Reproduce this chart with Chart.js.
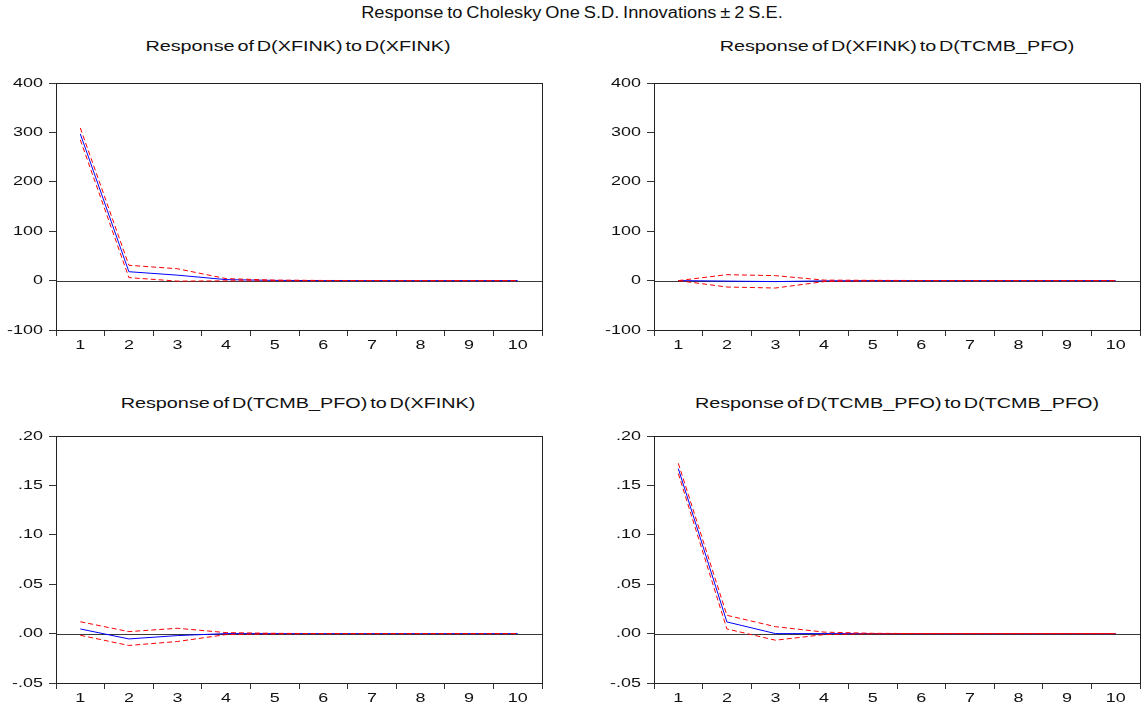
<!DOCTYPE html>
<html>
<head>
<meta charset="utf-8">
<script src="https://cdn.jsdelivr.net/npm/chart.js@4/dist/chart.umd.min.js"></script>
<style>
  html, body { margin: 0; padding: 0; background: #fff; }
  body { width: 1145px; height: 711px; position: relative; overflow: hidden; font-family: "Liberation Sans", Arial, sans-serif; color: #111; }
  .titulo { position: absolute; white-space: nowrap; transform-origin: center center; }
  .principal { left: 572px; top: 4px; font-size: 16px; transform: translateX(-50%) scaleX(1.14); word-spacing: -1px; }
  .sub { font-size: 15px; transform: translateX(-50%) scaleX(1.32); word-spacing: -2px; }
  canvas { position: absolute; }
</style>
</head>
<body>
<div class="titulo principal">Response to Cholesky One S.D. Innovations ± 2 S.E.</div>
<div class="titulo sub" style="left:298px;top:37px">Response of D(XFINK) to D(XFINK)</div>
<div class="titulo sub" style="left:897px;top:37px">Response of D(XFINK) to D(TCMB_PFO)</div>
<div class="titulo sub" style="left:298px;top:394px">Response of D(TCMB_PFO) to D(XFINK)</div>
<div class="titulo sub" style="left:897px;top:394px">Response of D(TCMB_PFO) to D(TCMB_PFO)</div>

<canvas id="g1" width="572" height="300" style="left:0;top:60px"></canvas>
<canvas id="g2" width="547" height="300" style="left:598px;top:60px"></canvas>
<canvas id="g3" width="572" height="298" style="left:0;top:413px"></canvas>
<canvas id="g4" width="547" height="298" style="left:598px;top:413px"></canvas>

<script>
// periodos del impulso-respuesta
const periodos = ['1', '2', '3', '4', '5', '6', '7', '8', '9', '10'];

// D(XFINK) -> D(XFINK)
const resp11 = [297, 18, 11, 2, 0.4, 0.1, 0, 0, 0, 0];
const sup11 = [309, 31, 24, 4, 1, 0.3, 0.1, 0, 0, 0];
const inf11 = [285, 6, -1, -0.5, -0.3, -0.1, 0, 0, 0, 0];

// D(XFINK) -> D(TCMB_PFO)
const resp12 = [0, -1, -2, -0.5, 0, 0, 0, 0, 0, 0];
const sup12 = [0, 12, 10, 1, 0.5, 0.2, 0, 0, 0, 0];
const inf12 = [0, -13, -15, -2, -0.5, -0.2, 0, 0, 0, 0];

// D(TCMB_PFO) -> D(XFINK)
const resp21 = [0.0047, -0.0054, -0.002, 0, 0, 0, 0, 0, 0, 0];
const sup21 = [0.012, 0.002, 0.0054, 0.001, 0.0003, 0, 0, 0, 0, 0];
const inf21 = [-0.0017, -0.012, -0.008, -0.001, -0.0003, 0, 0, 0, 0, 0];

// D(TCMB_PFO) -> D(TCMB_PFO)
const resp22 = [0.167, 0.0118, 0, 0, 0, 0, 0, 0, 0, 0];
const sup22 = [0.1724, 0.0185, 0.007, 0.0015, 0.0003, 0, 0, 0, 0, 0];
const inf22 = [0.162, 0.0047, -0.0067, -0.001, -0.0002, 0, 0, 0, 0, 0];

// ejes
const ticksXfink = [-100, 0, 100, 200, 300, 400];
const ticksTcmb = [-0.05, 0, 0.05, 0.10, 0.15, 0.20];

const ESTIRAR = 1.38; // el texto del original sale ensanchado

const textoAncho = {
  id: 'textoAncho',
  beforeInit(chart) {
    const ctx = chart.ctx;
    const fill = ctx.fillText.bind(ctx);
    ctx.fillText = (texto, x, y) => {
      ctx.save();
      ctx.translate(x, y);
      ctx.scale(ESTIRAR, 1);
      fill(texto, 0, 0);
      ctx.restore();
    };
  },
};

const marco = {
  id: 'marco',
  beforeDatasetsDraw(chart) {
    const { ctx, chartArea: a, scales } = chart;
    const y0 = Math.round(scales.y.getPixelForValue(0)) + 0.5;
    ctx.save();
    ctx.strokeStyle = '#3a3a3a';
    ctx.lineWidth = 1;
    ctx.beginPath();
    ctx.moveTo(a.left, y0);
    ctx.lineTo(a.right, y0);
    ctx.stroke();
    ctx.restore();
  },
  afterDatasetsDraw(chart) {
    const { ctx, chartArea: a } = chart;
    ctx.save();
    ctx.strokeStyle = '#222';
    ctx.lineWidth = 1;
    ctx.strokeRect(Math.round(a.left) + 0.5, Math.round(a.top) + 0.5, Math.round(a.right - a.left), Math.round(a.bottom - a.top));
    ctx.restore();
  },
};

function etiquetaDecimal(v) {
  if (Math.abs(v) < 1e-9) return '.00';
  return v.toFixed(2).replace(/^(-?)0\./, '$1.');
}

function dibujar(id, resp, sup, inf, ticks, formato, relleno, altoX) {
  const serieRoja = (data) => ({
    data, borderColor: '#ff0000', borderWidth: 1, borderDash: [5, 3], pointRadius: 0, tension: 0, fill: false,
  });
  return new Chart(document.getElementById(id), {
    type: 'line',
    data: {
      labels: periodos,
      datasets: [
        serieRoja(sup),
        serieRoja(inf),
        { data: resp, borderColor: '#0000ff', borderWidth: 1, pointRadius: 0, tension: 0, fill: false },
      ],
    },
    options: {
      responsive: false,
      animation: false,
      layout: { padding: relleno },
      plugins: { legend: { display: false }, tooltip: { enabled: false } },
      scales: {
        x: {
          offset: true,
          grid: { offset: true, drawOnChartArea: false, drawTicks: true, tickLength: 6, tickColor: '#333' },
          border: { display: false },
          ticks: { color: '#111', font: { family: 'Liberation Sans', size: 13 }, padding: 2, maxRotation: 0, autoSkip: false },
          afterFit: (s) => { s.height = altoX; },
        },
        y: {
          min: ticks[0],
          max: ticks[ticks.length - 1],
          afterBuildTicks: (s) => { s.ticks = ticks.map((v) => ({ value: v })); },
          grid: { drawOnChartArea: false, drawTicks: true, tickLength: 7, tickColor: '#333' },
          border: { display: false },
          ticks: { color: '#111', font: { family: 'Liberation Sans', size: 13 }, padding: 6, callback: formato },
          afterFit: (s) => { s.width = 56; },
        },
      },
    },
    plugins: [textoAncho, marco],
  });
}

const entero = (v) => String(v);

dibujar('g1', resp11, sup11, inf11, ticksXfink, entero, { top: 23, right: 30, left: 0, bottom: 0 }, 30);
dibujar('g2', resp12, sup12, inf12, ticksXfink, entero, { top: 23, right: 5, left: 0, bottom: 0 }, 30);
dibujar('g3', resp21, sup21, inf21, ticksTcmb, etiquetaDecimal, { top: 23, right: 30, left: 0, bottom: 0 }, 28);
dibujar('g4', resp22, sup22, inf22, ticksTcmb, etiquetaDecimal, { top: 23, right: 5, left: 0, bottom: 0 }, 28);
</script>
</body>
</html>
